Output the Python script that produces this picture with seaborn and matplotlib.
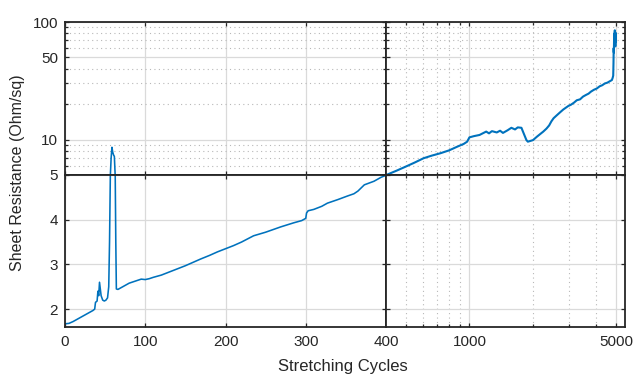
import numpy as np
import pandas as pd
import matplotlib
matplotlib.use("Agg")
import matplotlib.pyplot as plt
import seaborn as sns
from matplotlib.ticker import FixedLocator, NullFormatter, FixedFormatter

# ---- data ----
cycles = [0, 5, 10, 15, 20, 25, 30, 35, 37, 38, 40, 41, 42, 43, 44, 45, 47, 49, 51, 53,
          54.5, 55.5, 56.5, 57.5, 58.5, 59.5, 60.5, 61.5, 62.5, 63.3, 64, 66, 70, 75, 80,
          85, 90, 95, 100, 105, 110, 120, 130, 140, 150, 160, 169, 180, 190, 200, 210,
          220, 235, 250, 269, 285, 295, 300, 301, 303, 310, 320, 327, 340, 352, 360, 365,
          373, 385, 394, 401,
          450, 504, 550, 604, 660, 726, 800, 874, 940, 975, 1000, 1050, 1117, 1202, 1240,
          1280, 1350, 1400, 1445, 1520, 1585, 1650, 1700, 1770, 1800, 1870, 1900, 2010,
          2100, 2250, 2330, 2400, 2460, 2520, 2600, 2700, 2800, 2960, 3050, 3150, 3250,
          3370, 3480, 3600, 3700, 3800, 3920, 4050, 4180, 4300, 4420, 4550, 4650, 4780,
          4820, 4850, 4865, 4875, 4885, 4895, 4905, 4915, 4925, 4935, 4945, 4955, 4965,
          4975, 4985, 4995]
resistance = [1.67, 1.68, 1.72, 1.77, 1.82, 1.87, 1.92, 1.97, 2.0, 2.15, 2.18, 2.4, 2.3,
              2.6, 2.45, 2.3, 2.2, 2.18, 2.2, 2.25, 2.5, 3.5, 5.0, 7.0, 8.6, 7.8, 7.4, 7.2,
              5.0, 3.5, 2.45, 2.44, 2.48, 2.53, 2.58, 2.61, 2.64, 2.67, 2.66, 2.68, 2.71,
              2.76, 2.83, 2.9, 2.97, 3.05, 3.12, 3.2, 3.28, 3.35, 3.42, 3.5, 3.64, 3.72,
              3.84, 3.93, 3.98, 4.03, 4.15, 4.2, 4.23, 4.3, 4.37, 4.45, 4.53, 4.58, 4.64,
              4.78, 4.86, 4.95, 5.0,
              5.45, 5.96, 6.4, 6.94, 7.3, 7.65, 8.1, 8.7, 9.2, 9.6, 10.45, 10.7, 10.95,
              11.7, 11.3, 11.8, 11.5, 11.9, 11.4, 12.0, 12.6, 12.2, 12.7, 12.6, 11.7, 9.9,
              9.6, 9.9, 10.6, 11.7, 12.4, 13.2, 14.3, 15.2, 16.0, 17.0, 18.0, 19.3, 19.8,
              20.6, 21.6, 22.0, 23.2, 24.0, 24.6, 25.6, 26.5, 27.2, 28.4, 29.0, 30.0,
              30.5, 31.2, 32.1, 33.5, 35.0, 45.0, 60.0, 55.0, 70.0, 65.0, 80.0, 72.0,
              85.0, 78.0, 82.0, 62.0, 75.0, 68.0, 80.0]

df = pd.DataFrame({"Stretching Cycles": cycles, "Sheet Resistance": resistance})

# ---- style ----
sns.set_theme(style="white")
plt.rcParams["font.family"] = ["Liberation Sans", "DejaVu Sans"]
TXT = "#262626"
LINE = "#0072BD"

W, H = 633, 378
fig = plt.figure(figsize=(W / 100, H / 100), dpi=100)

xl, xm, xr = 65 / W, 386 / W, 625 / W
yt, ym, yb = 1 - 22 / H, 1 - 175 / H, 1 - 326.5 / H

ax_tl = fig.add_axes([xl, ym, xm - xl, yt - ym])
ax_tr = fig.add_axes([xm, ym, xr - xm, yt - ym])
ax_bl = fig.add_axes([xl, yb, xm - xl, ym - yb])
ax_br = fig.add_axes([xm, yb, xr - xm, ym - yb])

X_LIN = (0, 400)
X_LOG = (400, 5520)
Y_LIN = (1.61, 5)
Y_LOG = (5, 100)

for ax in (ax_tl, ax_tr, ax_bl, ax_br):
    sub = df
    lw = 1.15
    if ax in (ax_tr, ax_br):
        sub = df[df["Stretching Cycles"] >= 385]
        lw = 1.5
    sns.lineplot(data=sub, x="Stretching Cycles", y="Sheet Resistance", ax=ax,
                 color=LINE, linewidth=lw, estimator=None, sort=True, legend=False)
    ax.set_xlabel("")
    ax.set_ylabel("")
    for s in ax.spines.values():
        s.set_color(TXT)
        s.set_linewidth(1.3)
        s.set_visible(True)
    ax.tick_params(which="both", direction="in", top=True, right=True,
                   bottom=True, left=True, colors=TXT, labelcolor=TXT,
                   labelsize=11, width=0.9)
    ax.tick_params(which="major", length=3)
    ax.tick_params(which="minor", length=2)
    ax.set_axisbelow(True)

# scales and limits
for ax in (ax_tl, ax_tr):
    ax.set_yscale("log")
    ax.set_ylim(*Y_LOG)
for ax in (ax_bl, ax_br):
    ax.set_ylim(*Y_LIN)
for ax in (ax_tr, ax_br):
    ax.set_xscale("log")
    ax.set_xlim(*X_LOG)
for ax in (ax_tl, ax_bl):
    ax.set_xlim(*X_LIN)

# ticks
lin_x_ticks = [0, 100, 200, 300, 400]
lin_x_labels = ["0", "100", "200", "300", "400"]
log_x_major = [1000, 5000]
log_x_labels = ["1000", "5000"]
log_x_minor = [500, 600, 700, 800, 900, 2000, 3000, 4000]
lin_y_ticks = [2, 3, 4, 5]
lin_y_labels = ["2", "3", "4", "5"]
log_y_major = [5, 10, 50, 100]
log_y_labels = ["", "10", "50", "100"]
log_y_minor = [6, 7, 8, 9, 20, 30, 40, 60, 70, 80, 90]

for ax in (ax_tl, ax_bl):
    ax.xaxis.set_major_locator(FixedLocator(lin_x_ticks))
    ax.xaxis.set_minor_locator(FixedLocator([]))
for ax in (ax_tr, ax_br):
    ax.xaxis.set_major_locator(FixedLocator(log_x_major))
    ax.xaxis.set_minor_locator(FixedLocator(log_x_minor))
    ax.xaxis.set_minor_formatter(NullFormatter())
for ax in (ax_bl, ax_br):
    ax.yaxis.set_major_locator(FixedLocator(lin_y_ticks))
    ax.yaxis.set_minor_locator(FixedLocator([]))
for ax in (ax_tl, ax_tr):
    ax.yaxis.set_major_locator(FixedLocator(log_y_major))
    ax.yaxis.set_minor_locator(FixedLocator(log_y_minor))
    ax.yaxis.set_minor_formatter(NullFormatter())

ax_bl.xaxis.set_major_formatter(FixedFormatter(lin_x_labels))
ax_bl.yaxis.set_major_formatter(FixedFormatter(lin_y_labels))
ax_br.xaxis.set_major_formatter(FixedFormatter(log_x_labels))
ax_br.yaxis.set_major_formatter(NullFormatter())
ax_tl.yaxis.set_major_formatter(FixedFormatter(log_y_labels))
ax_tl.xaxis.set_major_formatter(NullFormatter())
ax_tr.xaxis.set_major_formatter(NullFormatter())
ax_tr.yaxis.set_major_formatter(NullFormatter())

for ax in (ax_tl, ax_tr, ax_bl, ax_br):
    ax.tick_params(axis="x", pad=6)
    ax.tick_params(axis="y", pad=5)

# grids
MAJ = dict(color="#dadada", linewidth=0.9, linestyle="-")
MIN = dict(color="#b8b8b8", linewidth=0.8, linestyle=(0, (1, 3)))
for ax in (ax_tl, ax_tr, ax_bl, ax_br):
    ax.grid(True, which="major", **MAJ)
for ax in (ax_tl, ax_tr):
    ax.grid(True, which="minor", axis="y", **MIN)
for ax in (ax_tr, ax_br):
    ax.grid(True, which="minor", axis="x", **MIN)

fig.text(343 / W, 1 - 367 / H, "Stretching Cycles", ha="center", va="center",
         fontsize=12, color=TXT)
fig.text(18 / W, 1 - 173 / H, "Sheet Resistance (Ohm/sq)", ha="center", va="center",
         rotation=90, fontsize=11.5, color=TXT)

fig.savefig("out.png", dpi=100)
